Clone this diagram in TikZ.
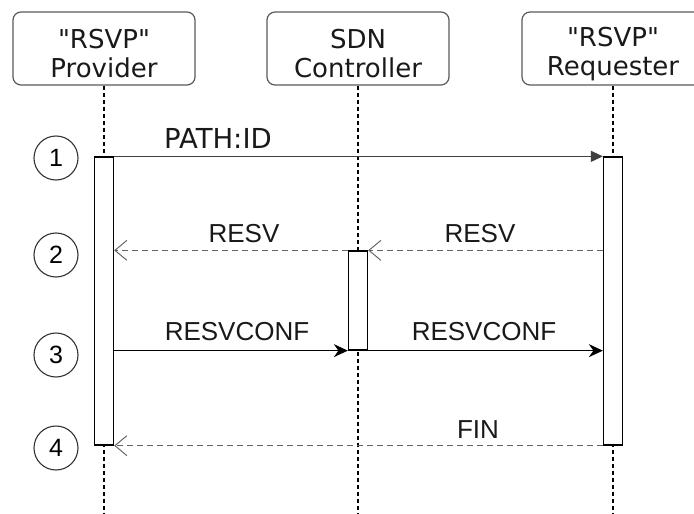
\documentclass[tikz,border=0pt]{standalone}
\usepackage{fontspec}
\setmainfont{Liberation Sans}
\newfontfamily\dejavu{DejaVu Sans}
\usetikzlibrary{arrows.meta}

\begin{document}
\begin{tikzpicture}
[x=1pt,y=-1pt,
actor/.style={draw=black!65,line width=1.2pt,rounded corners=8pt,minimum width=182pt,minimum height=73pt,align=center,text=black!90,font=\dejavu\fontsize{26}{29}\selectfont},
bar/.style={draw,fill=white,line width=1.3pt,minimum width=19pt,inner sep=0pt},
life/.style={line width=1.3pt,dash pattern=on 4pt off 3pt},
num/.style={draw=black!80,circle,minimum size=44pt,inner sep=0pt,line width=1.1pt,font=\fontsize{25}{25}\selectfont},
call/.style={line width=1.3pt,-{Stealth[length=14pt,width=13pt]}},
reply/.style={line width=1.3pt,black!60,dash pattern=on 6pt off 4pt,-{Straight Barb[length=12pt,width=20pt,line width=1pt]}},
lbl/.style={anchor=base,text=black!90,font=\fontsize{26}{26}\selectfont},]

\useasboundingbox (0,0) rectangle (694,514);
\clip (0,0) rectangle (694,514);

%Actors
\node (P) at (104,48.5)[actor] {\rule{0pt}{30pt}"RSVP"\\Provider};
\node (S) at (358,48.5)[actor] {\rule{0pt}{30pt}SDN\\Controller};
\node (R) at (613,48.5)[actor] {\rule{0pt}{30pt}"RSVP"\\Requester};

%Lifelines
\coordinate (Pend) at (104,514);
\coordinate (Send) at (358,514);
\coordinate (Rend) at (613,514);
\draw[life] (P.south) -- (Pend);
\draw[life] (S.south) -- (Send);
\draw[life] (R.south) -- (Rend);

%Activation bars
\node (PB) at (104,301)[bar,minimum height=288pt] {};
\node (RB) at (613,301)[bar,minimum height=288pt] {};
\node (SB) at (358,300.5)[bar,minimum height=99pt] {};

%Step numbers
\node (N1) at (56,158)[num] {1};
\node (N2) at (56,255)[num] {2};
\node (N3) at (56,355)[num] {3};
\node (N4) at (56,448)[num] {4};

%Messages
\draw[line width=1.3pt,black!75,-{Triangle[length=12pt,width=11pt]}] (PB.north east) -- (RB.north west);
\draw[reply] (RB.west |- SB.north) -- (SB.north east);
\draw[reply] (SB.north west) -- (PB.east |- SB.north);
\draw[call] (PB.east |- SB.south) -- (SB.south west);
\draw[call] (SB.south east) -- (RB.west |- SB.south);
\draw[reply] (RB.south west) -- (PB.south east);

%Message labels
\node (m1) at (218,148)[lbl,font=\dejavu\fontsize{27.5}{27.5}\selectfont] {PATH:ID};
\node (m2) at (244,242)[lbl] {RESV};
\node (m3) at (480,242)[lbl] {RESV};
\node (m4) at (237,340)[lbl] {RESVCONF};
\node (m5) at (484,340)[lbl] {RESVCONF};
\node (m6) at (478,438)[lbl] {FIN};
\end{tikzpicture}
\end{document}
